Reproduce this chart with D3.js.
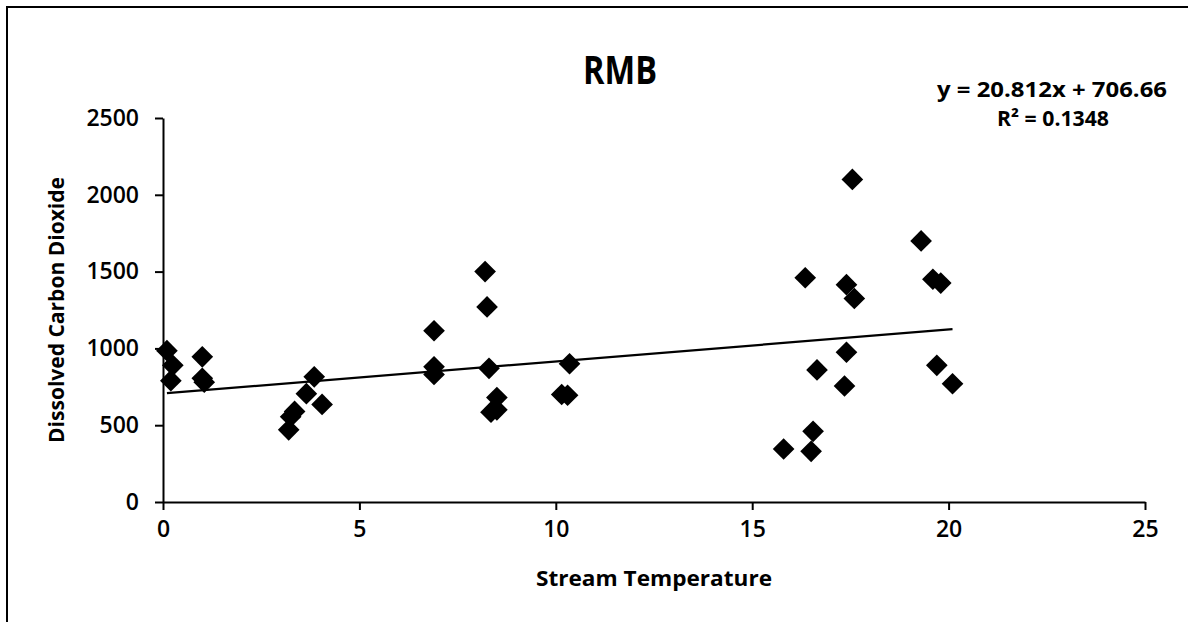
<!DOCTYPE html>
<html>
<head>
<meta charset="utf-8">
<script src="https://cdn.jsdelivr.net/npm/d3@7"></script>
<style>
  html, body { margin: 0; padding: 0; background: #fff; }
  svg { display: block; }
  text { font-family: "Open Sans", "Liberation Sans", sans-serif; fill: #000; }
</style>
</head>
<body>
<svg id="chart" width="1188" height="622"></svg>
<script>
// Stream temperature (°C) vs dissolved CO2 for the RMB site
const temperature = [
  0.1, 0.25, 0.2,
  1.0, 1.0, 1.05,
  3.2, 3.25, 3.35, 3.65, 3.85, 4.05,
  6.9, 6.9, 6.9,
  8.2, 8.25, 8.3, 8.5, 8.5, 8.35,
  10.15, 10.3, 10.35,
  15.8, 16.35, 16.5, 16.55, 16.65, 17.35, 17.4, 17.4, 17.55, 17.6,
  19.3, 19.6, 19.8, 19.7, 20.1
];
const dissolvedCO2 = [
  985, 890, 790,
  945, 805, 780,
  470, 555, 590, 705, 815, 635,
  1115, 880, 830,
  1500, 1270, 870, 680, 600, 585,
  700, 695, 900,
  345, 1460, 330, 460, 860, 755, 975, 1415, 2100, 1325,
  1700, 1450, 1425, 890, 770
];
const xTicks = [0, 5, 10, 15, 20, 25];
const yTicks = [0, 500, 1000, 1500, 2000, 2500];

// Linear trendline reported with the chart
const slope = 20.812;
const intercept = 706.66;
const rSquared = "0.1348";

const svg = d3.select("#chart");

// chart frame
svg.append("rect")
  .attr("x", 7).attr("y", 7)
  .attr("width", 1300).attr("height", 800)
  .attr("fill", "none").attr("stroke", "#000").attr("stroke-width", 2);

const x = d3.scaleLinear().domain([0, 25]).range([163, 1145]);
const y = d3.scaleLinear().domain([0, 2500]).range([502, 118]);

// axes
const xAxis = svg.append("g")
  .attr("transform", `translate(0,${y(0)})`)
  .call(d3.axisBottom(x).tickValues(xTicks).tickFormat(d3.format("d"))
    .tickSize(8).tickSizeOuter(0).tickPadding(11));
const yAxis = svg.append("g")
  .attr("transform", `translate(${x(0)},0)`)
  .call(d3.axisLeft(y).tickValues(yTicks).tickFormat(d3.format("d"))
    .tickSize(8).tickSizeOuter(0).tickPadding(16));

[xAxis, yAxis].forEach(g => {
  g.select(".domain").attr("stroke", "#000").attr("stroke-width", 2);
  g.selectAll(".tick line").attr("stroke", "#000").attr("stroke-width", 2);
  g.selectAll(".tick text")
    .style("font-family", "\"Open Sans\", sans-serif")
    .style("font-size", "23px").style("font-weight", "600").attr("fill", "#000");
});

// trendline across the observed temperature range
const [tMin, tMax] = d3.extent(temperature);
svg.append("line")
  .attr("x1", x(tMin)).attr("y1", y(slope * tMin + intercept))
  .attr("x2", x(tMax)).attr("y2", y(slope * tMax + intercept))
  .attr("stroke", "#000").attr("stroke-width", 2.2);

// diamond markers
const diamond = d3.symbol().type(d3.symbolSquare).size(235);
svg.append("g").selectAll("path")
  .data(d3.range(temperature.length))
  .join("path")
  .attr("d", diamond)
  .attr("transform", i => `translate(${x(temperature[i])},${y(dissolvedCO2[i])}) rotate(45)`)
  .attr("fill", "#000");

// title
svg.append("text")
  .attr("x", 620).attr("y", 84)
  .attr("text-anchor", "middle")
  .style("font-size", "39px").style("font-weight", "bold")
  .attr("textLength", 74).attr("lengthAdjust", "spacingAndGlyphs")
  .text("RMB");

// regression equation
svg.append("text")
  .attr("x", 1052).attr("y", 97)
  .attr("text-anchor", "middle")
  .style("font-size", "21px").style("font-weight", "bold")
  .attr("textLength", 230).attr("lengthAdjust", "spacingAndGlyphs")
  .text(`y = ${slope}x + ${intercept}`);
svg.append("text")
  .attr("x", 1053).attr("y", 126)
  .attr("text-anchor", "middle")
  .style("font-size", "21px").style("font-weight", "bold")
  .attr("textLength", 112).attr("lengthAdjust", "spacingAndGlyphs")
  .text(`R² = ${rSquared}`);

// axis titles
svg.append("text")
  .attr("x", 654).attr("y", 586)
  .attr("text-anchor", "middle")
  .style("font-size", "22px").style("font-weight", "bold")
  .attr("textLength", 236).attr("lengthAdjust", "spacingAndGlyphs")
  .text("Stream Temperature");
svg.append("text")
  .attr("transform", `translate(64,${(y(0) + y(2500)) / 2}) rotate(-90)`)
  .attr("text-anchor", "middle")
  .style("font-size", "22px").style("font-weight", "bold")
  .attr("textLength", 266).attr("lengthAdjust", "spacingAndGlyphs")
  .text("Dissolved Carbon Dioxide");
</script>
</body>
</html>
